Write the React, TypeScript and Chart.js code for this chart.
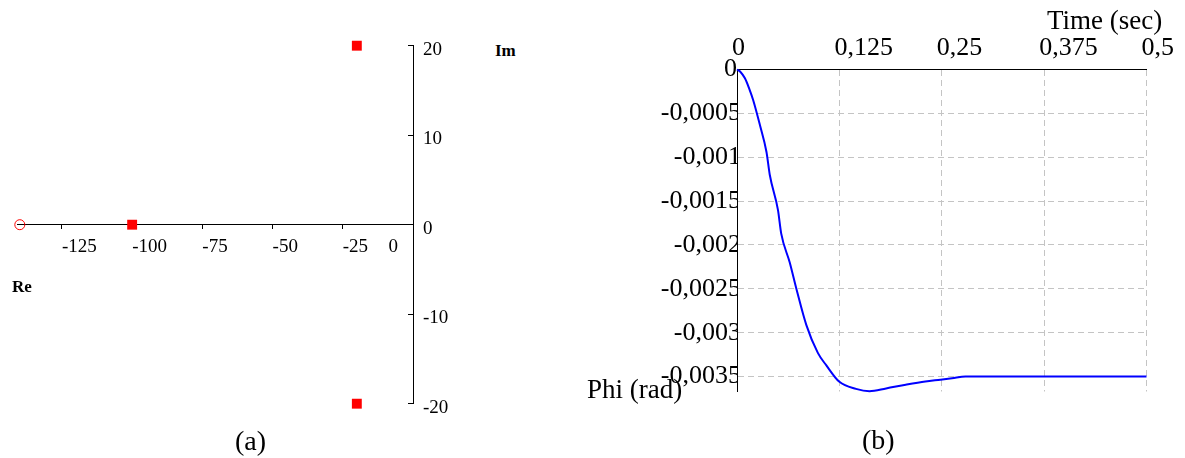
import React, { useEffect, useRef } from 'react';
import { Chart, registerables } from 'chart.js';
Chart.register(...registerables);

// ---- (a) pole-zero map ----
const poleRe = [-100, -20, -20];
const poleIm = [0, 20, -20];
const zeroRe = [-140];
const zeroIm = [0];
const reTicks = [-125, -100, -75, -50, -25, 0];
const imTicks = [-20, -10, 0, 10, 20];

// ---- (b) time response ----
const timeSec = [0, 0.004, 0.0097, 0.015, 0.0198, 0.0279, 0.036, 0.04, 0.05, 0.054, 0.0644, 0.0728, 0.0846, 0.0987, 0.1089, 0.125, 0.1453, 0.1618, 0.182, 0.206, 0.23, 0.2484, 0.2625, 0.279, 0.3, 0.35, 0.4, 0.45, 0.5];
const phiRad = [0, -0.000025, -0.0001, -0.00022, -0.00035, -0.00063, -0.00094, -0.0012, -0.0016, -0.00187, -0.0022, -0.00251, -0.00291, -0.00323, -0.00337, -0.00356, -0.00364, -0.003666, -0.003635, -0.003593, -0.003556, -0.003536, -0.00352, -0.0035, -0.0035, -0.0035, -0.0035, -0.0035, -0.0035];
const timeTicks = [0, 0.125, 0.25, 0.375, 0.5];
const phiTicks = [-0.0005, -0.001, -0.0015, -0.002, -0.0025, -0.003, -0.0035];
const phiZeroTick = [0];

const SERIF = "'Liberation Serif', 'Times New Roman', serif";
const fmt = (v: number) => String(v).replace('.', ',');

function PoleZero() {
  const ref = useRef<HTMLCanvasElement>(null);
  useEffect(() => {
    const chart = new Chart(ref.current!, {
      type: 'scatter',
      data: {
        datasets: [
          {
            label: 'Poles',
            data: poleRe.map((r, i) => ({ x: r, y: poleIm[i] })),
            pointStyle: 'rect',
            pointRadius: 7,
            backgroundColor: '#ff0000',
            borderColor: '#ff0000',
            borderWidth: 0,
            clip: false,
          },
          {
            label: 'Zeros',
            data: zeroRe.map((r, i) => ({ x: r, y: zeroIm[i] })),
            pointStyle: 'circle',
            pointRadius: 5,
            backgroundColor: 'rgba(0,0,0,0)',
            borderColor: '#ff0000',
            borderWidth: 1,
            clip: false,
          },
        ],
      },
      options: {
        animation: false,
        responsive: false,
        layout: { padding: { left: 17, top: 45.7, right: 0, bottom: 54.3 } },
        plugins: { legend: { display: false }, tooltip: { enabled: false } },
        scales: {
          x: {
            type: 'linear',
            min: -141,
            max: 0,
            position: { y: 0 } as any,
            afterBuildTicks: (s: any) => { s.ticks = reTicks.map((v) => ({ value: v })); },
            ticks: {
              align: 'start',
              padding: 7,
              color: '#000',
              font: { family: SERIF, size: 19 },
              callback: (v: any) => (v === 0 ? '' : String(v)),
            },
            grid: { drawOnChartArea: false, drawTicks: true, tickLength: 4, color: '#000' },
            border: { display: true, color: '#000', width: 1 },
          },
          x2: {
            type: 'linear',
            axis: 'x',
            min: -141,
            max: 0,
            position: { y: 0 } as any,
            afterBuildTicks: (s: any) => { s.ticks = [{ value: 0 }]; },
            ticks: {
              align: 'end',
              labelOffset: -15,
              padding: 11,
              color: '#000',
              font: { family: SERIF, size: 19 },
              callback: (v: any) => String(v),
            },
            grid: { display: false, drawTicks: false },
            border: { display: false },
          },
          y: {
            type: 'linear',
            min: -20,
            max: 20,
            position: 'right',
            afterBuildTicks: (s: any) => { s.ticks = imTicks.map((v) => ({ value: v })); },
            afterFit: (s: any) => { s.width = 67; },
            ticks: {
              padding: 15,
              labelOffset: 4,
              color: '#000',
              font: { family: SERIF, size: 19 },
              callback: (v: any) => String(v),
            },
            grid: { drawOnChartArea: false, drawTicks: true, tickLength: -5, color: '#000' },
            border: { display: true, color: '#000', width: 1 },
          },
        },
      },
    });
    return () => chart.destroy();
  }, []);
  return <canvas ref={ref} width={480} height={458} style={{ position: 'absolute', left: 0, top: 0, width: 480, height: 458 }} />;
}

function TimeResponse() {
  const ref = useRef<HTMLCanvasElement>(null);
  useEffect(() => {
    const chart = new Chart(ref.current!, {
      type: 'line',
      data: {
        datasets: [
          {
            label: 'Phi',
            data: timeSec.map((t, i) => ({ x: t, y: phiRad[i] })),
            borderColor: '#0000ff',
            borderWidth: 2,
            pointRadius: 0,
            fill: false,
            cubicInterpolationMode: 'monotone',
            clip: false,
          },
        ],
      },
      options: {
        animation: false,
        responsive: false,
        layout: { padding: { left: 0, top: 0, right: 36, bottom: 66.5 } },
        plugins: { legend: { display: false }, tooltip: { enabled: false } },
        scales: {
          x: {
            type: 'linear',
            min: 0,
            max: 0.5,
            position: 'top',
            afterBuildTicks: (s: any) => { s.ticks = timeTicks.map((v) => ({ value: v })); },
            afterFit: (s: any) => { s.height = 69.5; },
            ticks: {
              align: 'start',
              labelOffset: -5,
              padding: 6,
              color: '#000',
              font: { family: SERIF, size: 26 },
              callback: (v: any) => fmt(v),
            },
            grid: { color: '#c4c4c4', drawTicks: false, lineWidth: 1 },
            border: { display: true, color: '#000', width: 1, dash: [6, 4] },
          },
          y: {
            type: 'linear',
            min: -0.00367,
            max: 0,
            position: 'left',
            afterBuildTicks: (s: any) => { s.ticks = phiTicks.map((v) => ({ value: v })); },
            afterFit: (s: any) => { s.width = 157; },
            ticks: {
              padding: -4,
              color: '#000',
              font: { family: SERIF, size: 26 },
              callback: (v: any) => fmt(v),
            },
            grid: { color: '#c4c4c4', drawTicks: false, lineWidth: 1 },
            border: { display: true, color: '#000', width: 1, dash: [6, 4] },
          },
          y2: {
            type: 'linear',
            axis: 'y',
            min: -0.00367,
            max: 0,
            position: { x: 0 } as any,
            afterBuildTicks: (s: any) => { s.ticks = phiZeroTick.map((v) => ({ value: v })); },
            ticks: {
              padding: 0,
              color: '#000',
              font: { family: SERIF, size: 26 },
              callback: (v: any) => fmt(v),
            },
            grid: { display: false, drawTicks: false },
            border: { display: false },
          },
        },
      },
    });
    return () => chart.destroy();
  }, []);
  return <canvas ref={ref} width={605} height={458} style={{ position: 'absolute', left: 580, top: 0, width: 605, height: 458 }} />;
}

const txt = (left: number, top: number, size: number, bold = false): React.CSSProperties => ({
  position: 'absolute',
  left,
  top,
  fontSize: size,
  lineHeight: 1,
  fontFamily: SERIF,
  fontWeight: bold ? 'bold' : 'normal',
  whiteSpace: 'nowrap',
  color: '#000',
});

export default function App() {
  return (
    <div style={{ position: 'fixed', left: 0, top: 0, width: 1185, height: 458, background: '#fff', overflow: 'hidden' }}>
      <PoleZero />
      <TimeResponse />
      <span style={txt(12, 277.8, 17, true)}>Re</span>
      <span style={txt(495, 41.8, 17, true)}>Im</span>
      <span style={txt(1047, 6.9, 27)}>Time (sec)</span>
      <span style={txt(587, 376.4, 27)}>Phi (rad)</span>
      <span style={txt(235, 426.5, 28)}>(a)</span>
      <span style={txt(862, 425.5, 28)}>(b)</span>
    </div>
  );
}
